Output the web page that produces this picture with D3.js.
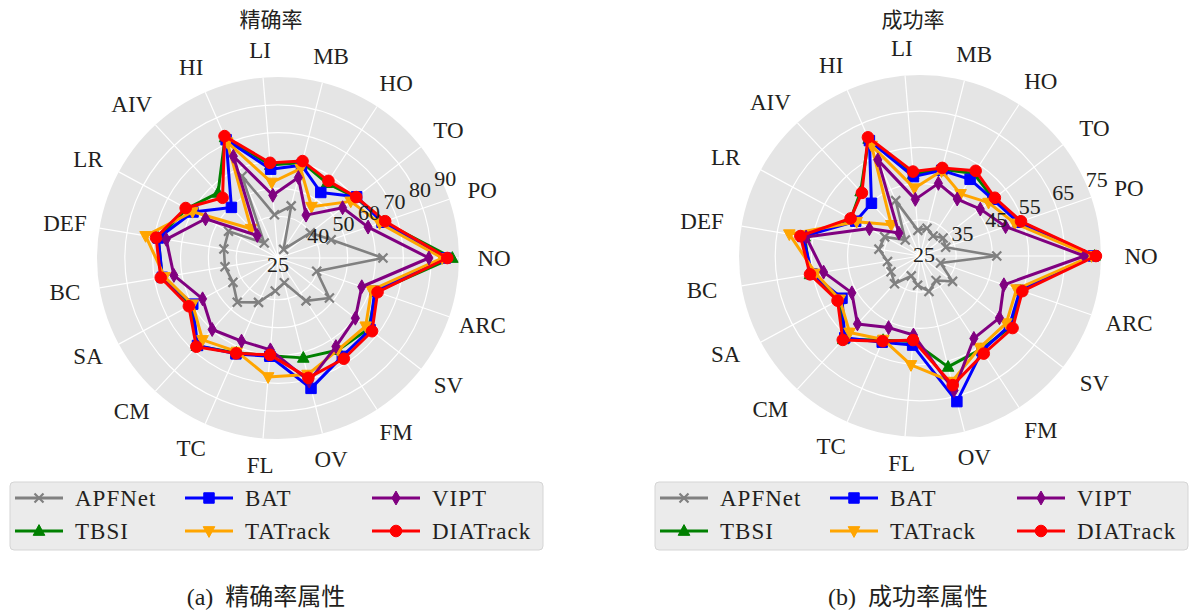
<!DOCTYPE html>
<html>
<head>
<meta charset="utf-8">
<script src="https://cdn.jsdelivr.net/npm/d3@7"></script>
<style>
  body { margin: 0; background: #fff; }
  svg { display: block; }
</style>
</head>
<body>
<div id="chart"></div>
<script>
// 属性（逆时针，从右侧 NO 开始）
const categories = ["NO","PO","TO","HO","MB","LI","HI","AIV","LR","DEF","BC","SA","CM","TC","FL","OV","FM","SV","ARC"];
const trackers = ["APFNet","TBSI","BAT","TATrack","VIPT","DIATrack"];

// 精确率
const prAPFNet   = [62.7,45.2,39.7,28.7,44.3,40.6,57.1,32.3,45.2,44.7,44.3,43.4,46.6,42.4,36.9,34.2,43.4,48.4,39.7];
const prTBSI     = [87.6,65.0,60.4,57.1,60.4,58.5,72.3,56.8,62.2,68.6,67.2,60.8,68.0,62.2,60.2,62.0,64.5,66.3,62.2];
const prBAT      = [85.1,64.5,60.8,53.1,59.4,57.0,71.4,49.7,59.7,68.6,67.1,59.8,67.7,62.6,60.4,73.3,67.2,66.9,61.7];
const prTATrack  = [84.0,63.6,58.1,47.0,58.1,52.2,70.4,39.3,59.9,73.2,66.3,59.9,65.0,61.7,67.9,68.2,64.4,64.9,60.5];
const prVIPT     = [79.2,59.2,54.4,43.4,54.8,47.6,64.9,36.0,54.6,65.7,62.9,55.8,59.9,57.6,58.1,70.6,63.0,60.2,56.8];
const prDIATrack = [85.8,65.7,60.6,58.1,60.9,59.3,72.8,54.4,62.7,69.4,67.7,61.4,68.3,62.4,59.9,69.4,68.2,67.8,62.8];

// 成功率
const srAPFNet   = [46.2,32.5,33.1,31.6,32.9,32.1,41.7,31.0,36.1,36.5,34.1,34.1,35.4,31.0,33.1,35.1,33.1,36.4,31.0];
const srTBSI     = [73.2,54.2,50.7,52.2,49.7,47.7,60.3,49.2,46.7,57.3,55.8,50.2,56.3,50.4,48.7,56.6,55.8,56.8,54.4];
const srBAT      = [72.9,53.7,50.5,50.3,49.4,47.0,59.8,44.8,45.2,57.8,55.2,49.5,55.7,51.0,49.7,66.5,56.3,56.3,54.2];
const srTATrack  = [72.4,52.7,49.0,45.5,49.2,43.8,58.3,36.7,44.9,61.6,54.2,50.2,53.7,50.2,55.2,60.8,55.2,55.2,53.2];
const srVIPT     = [70.4,50.0,46.1,43.8,45.7,40.7,54.0,33.6,40.9,56.9,52.0,46.4,50.5,46.6,46.9,63.3,52.2,52.8,49.5];
const srDIATrack = [73.6,54.5,51.2,53.1,50.1,48.4,60.8,48.7,46.8,58.5,55.8,50.9,56.5,50.7,48.3,61.8,57.2,57.4,54.9];

const prTicks = [25,40,50,60,70,80,90];
const srTicks = [25,35,45,55,65,75];

const colors  = ["#808080","#008000","#0000ff","#ffa500","#800080","#ff0000"];
const symbols = ["x","triUp","square","triDown","thinDiamond","circle"];

const W = 1196, H = 612;
const svg = d3.select("#chart").append("svg")
    .attr("width", W).attr("height", H)
    .style("font-family", "'Liberation Serif','Noto Sans CJK SC',serif");

function markerPath(kind, s) {
    const p = d3.path();
    if (kind === "x") {
        p.moveTo(-s, -s); p.lineTo(s, s); p.moveTo(-s, s); p.lineTo(s, -s);
    } else if (kind === "triUp") {
        p.moveTo(0, -s * 1.1); p.lineTo(s, s * 0.75); p.lineTo(-s, s * 0.75); p.closePath();
    } else if (kind === "triDown") {
        p.moveTo(0, s * 1.1); p.lineTo(s, -s * 0.75); p.lineTo(-s, -s * 0.75); p.closePath();
    } else if (kind === "square") {
        p.rect(-s * 0.9, -s * 0.9, s * 1.8, s * 1.8);
    } else if (kind === "thinDiamond") {
        p.moveTo(0, -s * 1.2); p.lineTo(s * 0.7, 0); p.lineTo(0, s * 1.2); p.lineTo(-s * 0.7, 0); p.closePath();
    } else {
        p.arc(0, 0, s, 0, 2 * Math.PI);
    }
    return p.toString();
}

function drawMarker(g, kind, color, x, y) {
    const sizes = {x: 4.5, triUp: 5.8, triDown: 5.8, square: 5.8, thinDiamond: 5.8, circle: 5.8};
    const m = g.append("path")
        .attr("d", markerPath(kind, sizes[kind]))
        .attr("transform", `translate(${x},${y})`);
    if (kind === "x") m.attr("fill", "none").attr("stroke", color).attr("stroke-width", 2.2);
    else m.attr("fill", color).attr("stroke", color).attr("stroke-width", 1);
}

function radar(opt) {
    const g = svg.append("g").attr("transform", `translate(${opt.cx},${opt.cy})`);
    const n = categories.length;
    const angle = d3.scaleLinear().domain([0, n]).range([0, 2 * Math.PI]); // 逆时针
    const r = d3.scaleLinear().domain(opt.domain).range([0, opt.R]);
    const px = (i, v) => r(v) * Math.cos(angle(i));
    const py = (i, v) => -r(v) * Math.sin(angle(i));

    g.append("circle").attr("r", opt.R).attr("fill", "#e5e5e5");

    // 网格
    g.selectAll(".ring").data(opt.ticks.filter(t => t > opt.domain[0] && t < opt.domain[1]))
        .enter().append("circle")
        .attr("r", d => r(d)).attr("fill", "none")
        .attr("stroke", "#fff").attr("stroke-width", 1.2);
    g.selectAll(".spoke").data(categories).enter().append("line")
        .attr("x1", 0).attr("y1", 0)
        .attr("x2", (d, i) => px(i, opt.domain[1]))
        .attr("y2", (d, i) => py(i, opt.domain[1]))
        .attr("stroke", "#fff").attr("stroke-width", 1.2);

    // 类别标签
    g.selectAll(".cat").data(categories).enter().append("text")
        .attr("x", (d, i) => (opt.R + opt.padX) * Math.cos(angle(i)))
        .attr("y", (d, i) => -(opt.R + opt.padY) * Math.sin(angle(i)))
        .attr("text-anchor", "middle").attr("dominant-baseline", "central")
        .attr("font-size", 23).attr("fill", "#231f20")
        .text(d => d);

    // 系列
    const line = d3.lineRadial()
        .angle((d, i) => Math.PI / 2 - angle(i))
        .radius(d => r(d))
        .curve(d3.curveLinearClosed);

    opt.series.forEach((vals, k) => {
        g.append("path").attr("d", line(vals))
            .attr("fill", "none").attr("stroke", colors[k])
            .attr("stroke-width", k === 0 ? 2.6 : 3)
            .attr("stroke-linejoin", "round");
        vals.forEach((v, i) => drawMarker(g, symbols[k], colors[k], px(i, v), py(i, v)));
    });

    // 半径刻度
    const la = opt.labelAngle * Math.PI / 180;
    g.selectAll(".rtick").data(opt.ticks).enter().append("text")
        .attr("x", (d, i) => i === 0 ? opt.firstOff[0] : r(d) * Math.cos(la) + opt.labelOff[0])
        .attr("y", (d, i) => i === 0 ? opt.firstOff[1] : -r(d) * Math.sin(la) + opt.labelOff[1])
        .attr("text-anchor", "middle").attr("dominant-baseline", "central")
        .attr("font-size", 22).attr("fill", "#231f20")
        .text(d => d);

    // 标题
    svg.append("text")
        .attr("x", opt.cx - 7).attr("y", 20)
        .attr("text-anchor", "middle").attr("dominant-baseline", "central")
        .attr("font-size", 21).attr("fill", "#231f20")
        .text(opt.title);

    // 图例
    const lg = svg.append("g").attr("transform", `translate(${opt.legendX},482)`);
    lg.append("rect").attr("width", 533).attr("height", 68).attr("rx", 4)
        .attr("fill", "#ebebeb").attr("stroke", "#d5d5d5");
    const colX = [5, 175, 362], rowY = [16, 49];
    const order = [0, 2, 4, 1, 3, 5];
    order.forEach((k, j) => {
        const x = colX[j % 3], y = rowY[Math.floor(j / 3)];
        lg.append("line").attr("x1", x).attr("x2", x + 48).attr("y1", y).attr("y2", y)
            .attr("stroke", colors[k]).attr("stroke-width", 3);
        drawMarker(lg, symbols[k], colors[k], x + 24, y);
        lg.append("text").attr("x", x + 60).attr("y", y)
            .attr("dominant-baseline", "central").attr("font-size", 23)
            .attr("letter-spacing", 1).attr("fill", "#231f20")
            .text(trackers[k]);
    });

    // 子图说明
    svg.append("text")
        .attr("x", opt.cx - 12).attr("y", 597)
        .attr("text-anchor", "middle").attr("dominant-baseline", "central")
        .attr("font-size", 24).attr("fill", "#231f20")
        .text(opt.caption);
}

radar({
    cx: 278, cy: 258, R: 181, domain: [25, 90], ticks: prTicks,
    padX: 35, padY: 27,
    labelAngle: 24, labelOff: [2, -6], firstOff: [0, 6],
    series: [prAPFNet, prTBSI, prBAT, prTATrack, prVIPT, prDIATrack],
    title: "精确率", caption: "(a)\u00a0\u00a0精确率属性", legendX: 10
});
radar({
    cx: 920, cy: 256, R: 181, domain: [25, 75], ticks: srTicks,
    padX: 40, padY: 27,
    labelAngle: 22, labelOff: [9, -9], firstOff: [4, -2],
    series: [srAPFNet, srTBSI, srBAT, srTATrack, srVIPT, srDIATrack],
    title: "成功率", caption: "(b)\u00a0\u00a0成功率属性", legendX: 655
});
</script>
</body>
</html>
